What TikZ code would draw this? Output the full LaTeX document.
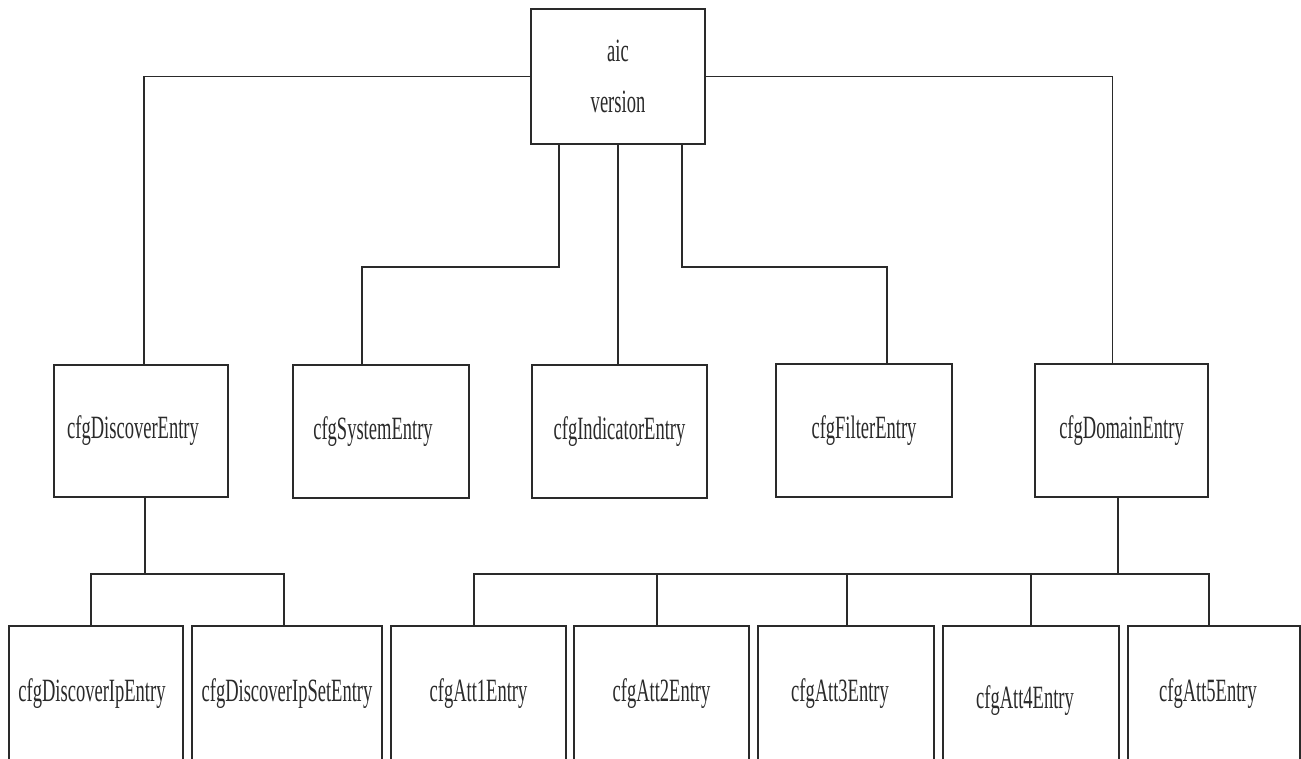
\documentclass[tikz,border=0pt]{standalone}
\usepackage{fontspec}
\setmainfont{Liberation Serif}[FakeStretch=0.57]
\definecolor{ink}{HTML}{2A2A2A}
\begin{document}
\begin{tikzpicture}[x=1pt,y=-1pt,
  every node/.style={text=ink},
  entry/.style={draw=ink, line width=1.5pt, rectangle, inner sep=0pt,
    font=\fontsize{32.5}{51}\selectfont, align=center},
  link/.style={draw=ink, line width=1.5pt}]
  \useasboundingbox[fill=white] (0,0) rectangle (1301,758);
  \clip (0,0) rectangle (1301,758);

  % root
  \node[entry, minimum width=174pt, minimum height=135pt] (top) at (618,76.5) {aic\\version};

  % second level
  \node[entry, minimum width=174pt, minimum height=132pt] (disc) at (141,431) {\hspace*{-16pt}cfgDiscoverEntry};
  \node[entry, minimum width=176pt, minimum height=133pt] (sys)  at (381,431.5) {\hspace*{-16pt}cfgSystemEntry};
  \node[entry, minimum width=175pt, minimum height=133pt] (ind)  at (619.5,431.5) {cfgIndicatorEntry};
  \node[entry, minimum width=176pt, minimum height=133pt] (fil)  at (864,430.5) {cfgFilterEntry};
  \node[entry, minimum width=173pt, minimum height=133pt] (dom)  at (1121.5,430.5) {cfgDomainEntry};

  % third level (boxes run past the lower edge)
  \node[entry, minimum width=174pt, minimum height=136pt] (dip)    at (96,694)    {\hspace*{-8pt}cfgDiscoverIpEntry};
  \node[entry, minimum width=190pt, minimum height=136pt] (dipset) at (287,694)   {cfgDiscoverIpSetEntry};
  \node[entry, minimum width=175pt, minimum height=136pt] (a1)     at (478.5,694) {cfgAtt1Entry};
  \node[entry, minimum width=175pt, minimum height=136pt] (a2)     at (661.5,694) {cfgAtt2Entry};
  \node[entry, minimum width=176pt, minimum height=136pt] (a3)     at (846,694)   {\hspace*{-12pt}cfgAtt3Entry};
  \node[entry, minimum width=176pt, minimum height=150pt] (a4)     at (1031,701)  {\hspace*{-12pt}cfgAtt4Entry};
  \node[entry, minimum width=172pt, minimum height=136pt] (a5)     at (1214,694)  {\hspace*{-12pt}cfgAtt5Entry};

  % root to second level
  \draw[link] (top.west) -| ([xshift=3pt]disc.north);
  \draw[link] (top.east) -| ([xshift=-9pt]dom.north);
  \draw[link] ([xshift=-59pt]top.south) -- ++(0,122) -| ([xshift=-19pt]sys.north);
  \draw[link] (top.south) -- (top.south |- ind.north);
  \draw[link] ([xshift=64pt]top.south) -- ++(0,122) -| ([xshift=23pt]fil.north);

  % discover entry to its children
  \draw[link] ([xshift=4pt]disc.south) -- ++(0,76) coordinate (dj);
  \draw[link] ([xshift=-5pt]dip.north) |- (dj) -| ([xshift=-3pt]dipset.north);

  % domain entry to its children
  \draw[link] ([xshift=-3.5pt]dom.south) -- ++(0,76) coordinate (mj);
  \draw[link] ([xshift=-4.5pt]a1.north) |- (mj) -| ([xshift=-5pt]a5.north);
  \draw[link] ([xshift=-4.5pt]a2.north) -- ([xshift=-4.5pt]a2.north |- mj);
  \draw[link] ([xshift=1pt]a3.north) -- ([xshift=1pt]a3.north |- mj);
  \draw[link] (a4.north) -- (a4.north |- mj);
\end{tikzpicture}
\end{document}
